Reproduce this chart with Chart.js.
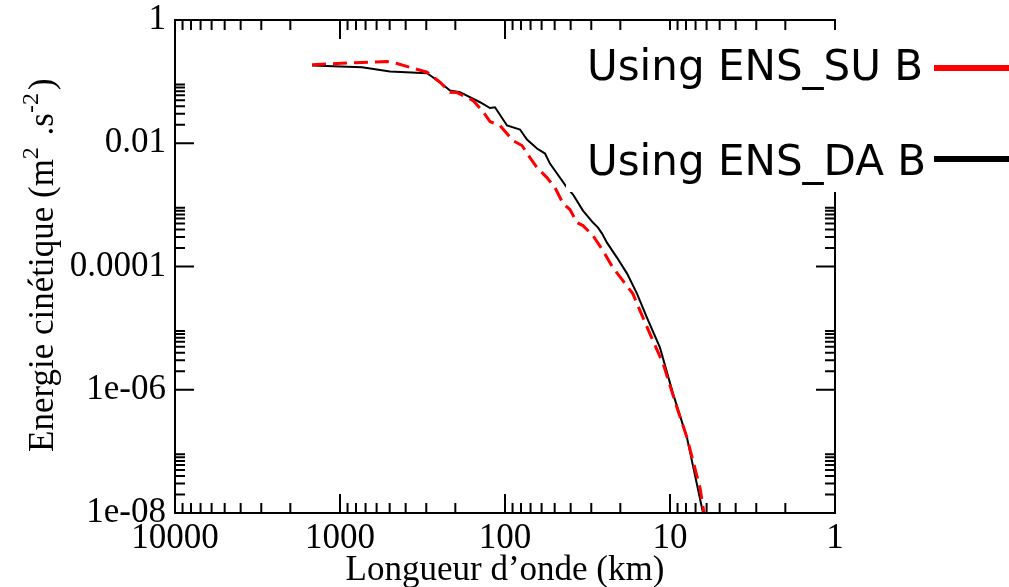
<!DOCTYPE html>
<html>
<head>
<meta charset="utf-8">
<script src="https://cdn.jsdelivr.net/npm/chart.js@4.4.1/dist/chart.umd.min.js"></script>
<style>
  html, body { margin: 0; padding: 0; background: #fff; }
  #wrap { width: 1009px; height: 587px; }
</style>
</head>
<body>
<div id="wrap"><canvas id="spectrum" width="1009" height="587"></canvas></div>
<script>
// --- DATA ---
const seriesLabels = ["Using ENS_SU B", "Using ENS_DA B"];

// ENS_DA B (black, solid)
const wavelengthDA = [1478, 735.6, 497.7, 297.0, 247.6, 215.4, 187.4, 141.7, 123.3, 115.0,
  97.2, 81.1, 73.6, 64.0, 57.2, 53.4, 42.1, 38.7, 33.7, 29.3,
  27.3, 25.8, 24.1, 20.96, 18.2, 15.85, 13.8, 11.5, 9.59, 7.89, 6.31, 6.05];
const energyDA = [0.1826, 0.1713, 0.1459, 0.1369, 0.0978, 0.0717, 0.0673, 0.0463, 0.0373, 0.0384,
  0.0194, 0.0167, 0.01148, 0.0082, 0.0068, 0.00468, 0.00191, 0.00147, 0.000808, 0.000516,
  0.000428, 0.000342, 0.000244, 0.0001395, 7.67e-5, 3.63e-5, 1.48e-5, 4.82e-6, 8.65e-7, 1.67e-7, 1.01e-8, 6.2e-9];

// ENS_SU B (red, dashed)
const wavelengthSU = [1478, 1043, 735.6, 519, 451.4, 297.0, 247.6, 215.4, 195.4, 156.2,
  135.9, 123.3, 107.2, 89.4, 78.9, 70.6, 64.0, 55.7, 49.8, 44.5,
  40.4, 36.6, 33.7, 29.3, 25.5, 22.2, 19.3, 16.8, 15.2, 12.7,
  11.0, 9.07, 7.89, 6.58, 6.05];
const energySU = [0.1874, 0.1967, 0.2042, 0.2120, 0.1967, 0.1421, 0.0978, 0.0673, 0.0665, 0.0493,
  0.0327, 0.0225, 0.0194, 0.01106, 0.00918, 0.00586, 0.00403, 0.00277, 0.00191, 0.00105,
  0.000839, 0.000516, 0.000461, 0.000317, 0.000181, 9.6e-5, 5.9e-5, 3.63e-5, 1.92e-5, 6.27e-6,
  2.65e-6, 5.12e-7, 1.67e-7, 2.57e-8, 6.2e-9];

const xTickValues = [10000, 1000, 100, 10, 1];
const xTickLabels = ["10000", "1000", "100", "10", "1"];
const yTickValues = [1, 0.01, 0.0001, 1e-6, 1e-8];
const yTickLabels = ["1", "0.01", "0.0001", "1e-06", "1e-08"];

const toPoints = (xs, ys) => xs.map((x, i) => ({ x: x, y: ys[i] }));

// --- AXES / FRAME PLUGIN (grace-like inward ticks) ---
const frameAxes = {
  id: "frameAxes",
  afterDatasetsDraw(chart) {
    const { ctx, chartArea: a } = chart;
    const xs = chart.scales.x, ys = chart.scales.y;
    ctx.save();
    ctx.strokeStyle = "#000";
    ctx.lineWidth = 2;
    ctx.strokeRect(a.left, a.top, a.right - a.left, a.bottom - a.top);

    const major = 19, minor = 10;
    ctx.beginPath();
    // x ticks: every decade, minors 2..9
    xTickValues.forEach(v => {
      const px = xs.getPixelForValue(v);
      ctx.moveTo(px, a.bottom); ctx.lineTo(px, a.bottom - major);
      ctx.moveTo(px, a.top); ctx.lineTo(px, a.top + major);
      if (v < 10000) {
        for (let j = 2; j <= 9; j++) {
          const p = xs.getPixelForValue(v * j);
          ctx.moveTo(p, a.bottom); ctx.lineTo(p, a.bottom - minor);
          ctx.moveTo(p, a.top); ctx.lineTo(p, a.top + minor);
        }
      }
    });
    // y ticks: major every 2 decades, minors 2..9 x major
    yTickValues.forEach(v => {
      const py = ys.getPixelForValue(v);
      ctx.moveTo(a.left, py); ctx.lineTo(a.left + major, py);
      ctx.moveTo(a.right, py); ctx.lineTo(a.right - major, py);
      if (v < 1) {
        for (let j = 2; j <= 9; j++) {
          const p = ys.getPixelForValue(v * j);
          ctx.moveTo(a.left, p); ctx.lineTo(a.left + minor, p);
          ctx.moveTo(a.right, p); ctx.lineTo(a.right - minor, p);
        }
      }
    });
    ctx.stroke();

    // tick labels
    ctx.fillStyle = "#000";
    ctx.font = "35px 'Liberation Serif', 'Times New Roman', serif";
    ctx.textAlign = "center";
    ctx.textBaseline = "alphabetic";
    xTickValues.forEach((v, i) => {
      ctx.fillText(xTickLabels[i], xs.getPixelForValue(v), a.bottom + 35);
    });
    ctx.textAlign = "right";
    ctx.textBaseline = "middle";
    yTickValues.forEach((v, i) => {
      ctx.fillText(yTickLabels[i], a.left - 9, ys.getPixelForValue(v));
    });

    // x title
    ctx.textAlign = "center";
    ctx.textBaseline = "alphabetic";
    ctx.fillText("Longueur d\u2019onde (km)", (a.left + a.right) / 2, 580);

    // y title, rotated, with superscripts
    ctx.translate(53, 452);
    ctx.rotate(-Math.PI / 2);
    ctx.textAlign = "left";
    const big = "35px 'Liberation Serif', serif", small = "24px 'Liberation Serif', serif";
    const parts = [["Energie cin\u00e9tique (m", big, 0], ["2", small, -15], [" .s", big, 0], ["-2", small, -15], [")", big, 0]];
    let cx = 0;
    parts.forEach(([t, f, dy]) => {
      ctx.font = f;
      ctx.fillText(t, cx, dy);
      cx += ctx.measureText(t).width + (dy ? 3 : 0);
    });
    ctx.restore();
  },
  afterDraw(chart) {
    const { ctx } = chart;
    ctx.save();
    // legend box (white, covers the frame like the original)
    ctx.fillStyle = "#fff";
    ctx.fillRect(566, 30, 1009 - 566, 162);
    ctx.font = "42px 'DejaVu Sans', sans-serif";
    ctx.textAlign = "left";
    ctx.textBaseline = "alphabetic";
    const rows = [
      { label: chart.data.datasets[0].label, color: chart.data.datasets[0].borderColor, base: 80, line: 68 },
      { label: chart.data.datasets[1].label, color: chart.data.datasets[1].borderColor, base: 175, line: 159 }
    ];
    rows.forEach(r => {
      ctx.fillStyle = "#000";
      ctx.fillText(r.label, 587, r.base);
      ctx.strokeStyle = r.color;
      ctx.lineWidth = 6;
      ctx.beginPath();
      ctx.moveTo(934, r.line); ctx.lineTo(1009, r.line);
      ctx.stroke();
    });
    ctx.restore();
  }
};

new Chart(document.getElementById("spectrum"), {
  type: "scatter",
  data: {
    datasets: [
      {
        label: seriesLabels[0],
        data: toPoints(wavelengthSU, energySU),
        showLine: true,
        borderColor: "#ff0000",
        borderWidth: 3,
        borderDash: [14, 7],
        pointRadius: 0,
        tension: 0
      },
      {
        label: seriesLabels[1],
        data: toPoints(wavelengthDA, energyDA),
        showLine: true,
        borderColor: "#000000",
        borderWidth: 2,
        pointRadius: 0,
        tension: 0
      }
    ]
  },
  options: {
    responsive: false,
    animation: false,
    devicePixelRatio: 1,
    layout: { padding: { left: 175, right: 174, top: 20, bottom: 74 } },
    plugins: { legend: { display: false }, tooltip: { enabled: false } },
    scales: {
      x: { type: "logarithmic", reverse: true, min: 1, max: 10000, display: false },
      y: { type: "logarithmic", min: 1e-8, max: 1, display: false }
    }
  },
  plugins: [frameAxes]
});
</script>
</body>
</html>
